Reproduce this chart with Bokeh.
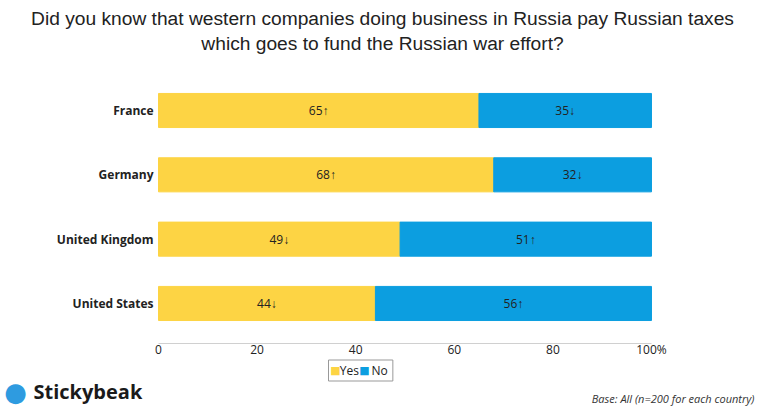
from bokeh.plotting import figure
from bokeh.models import Range1d, Label, ColumnDataSource
from bokeh.embed import file_html
from bokeh.resources import INLINE
from bokeh.core.properties import value

countries = ["France", "Germany", "United Kingdom", "United States"]
yes = [65, 68, 49, 44]
no = [35, 32, 51, 56]
yes_arrow = ["↑", "↑", "↓", "↓"]
no_arrow = ["↓", "↓", "↑", "↑"]
xticks = [0, 20, 40, 60, 80, 100]
xtick_labels = ["0", "20", "40", "60", "80", "100%"]
YES_C, NO_C = "#FDD444", "#0C9EE0"
FONT = "Open Sans"
W, H = 756, 407

p = figure(width=W, height=H, output_backend="svg", toolbar_location=None,
           x_axis_type=None, y_axis_type=None,
           x_range=Range1d(-32.05, 121.3), y_range=Range1d(-1.617, 4.71), min_border=0)
p.outline_line_color = None
p.grid.grid_line_color = None

def lab(x, py, t, **kw):
    p.add_layout(Label(x=x, y=H - py, x_units="screen", y_units="screen", text=t,
                       text_baseline="middle", **kw))

lab(382, 18, "Did you know that western companies doing business in Russia pay Russian taxes",
    text_align="center", text_font="Liberation Sans", text_font_size="19.2px", text_color="#222222")
lab(382, 43, "which goes to fund the Russian war effort?",
    text_align="center", text_font="Liberation Sans", text_font_size="19.2px", text_color="#222222")

ypos = [3 - i for i in range(len(countries))]
src = ColumnDataSource(dict(
    y=ypos, yes=yes, no=no, total=[a + b for a, b in zip(yes, no)], c=countries,
    ymid=[v / 2 for v in yes], nmid=[a + b / 2 for a, b in zip(yes, no)],
    ylab=[f"{v}{a}" for v, a in zip(yes, yes_arrow)],
    nlab=[f"{v}{a}" for v, a in zip(no, no_arrow)],
))
p.hbar(y="y", left=0, right="yes", height=0.53, color=YES_C, source=src)
p.hbar(y="y", left="yes", right="total", height=0.53, color=NO_C, source=src)
p.text(x="ymid", y="y", text="ylab", source=src, text_align="center", text_baseline="middle",
       text_font=value(FONT), text_font_size="12px", text_color="#222222")
p.text(x="nmid", y="y", text="nlab", source=src, text_align="center", text_baseline="middle",
       text_font=value(FONT), text_font_size="12px", text_color="#222222")
p.text(x=-1.0, y="y", text="c", source=src, text_align="right", text_baseline="middle",
       text_font=value(FONT), text_font_size="12px", text_font_style="bold", text_color="#222222")

# x axis
p.segment(x0=[min(xticks)], x1=[max(xticks)], y0=[-0.622], y1=[-0.622], line_color="#D0D0D0", line_width=1)
p.text(x=xticks, y=[-0.72] * len(xticks), text=xtick_labels, text_align="center", text_baseline="middle",
       text_font=value(FONT), text_font_size="12px", text_color="#222222")

# legend
NB = "\u00a0"
p.add_layout(Label(x=328, y=H - 370, x_units="screen", y_units="screen",
                   text=NB * 3 + "Yes" + NB * 4 + "No" + NB,
                   text_baseline="middle", text_font=FONT, text_font_size="12px",
                   text_color="#222222", border_line_color="#999999", padding=2))
lab(335, 370, "■", text_align="center", text_font="DejaVu Sans", text_font_size="11px", text_color=YES_C)
lab(364, 370, "■", text_align="center", text_font="DejaVu Sans", text_font_size="11px", text_color=NO_C)

lab(33, 391, "Stickybeak", text_font=FONT, text_font_size="20px",
    text_font_style="bold", text_color="#1a1a1a")
lab(15, 391, "●", text_align="center", text_font="DejaVu Sans", text_font_size="26px",
    text_color="#2E9BE0")
lab(754, 398, "Base: All (n=200 for each country)", text_align="right", text_font=FONT,
    text_font_size="11px", text_font_style="italic", text_color="#333333")

open("out.html", "w").write(file_html(p, INLINE))
